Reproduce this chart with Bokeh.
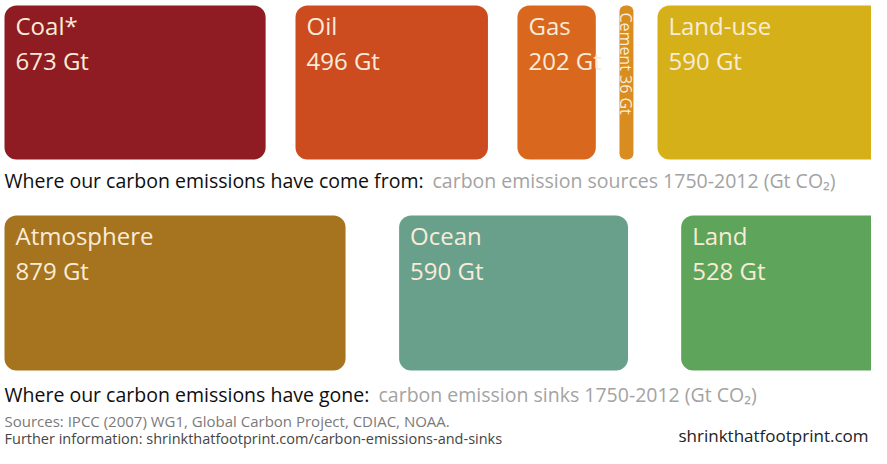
import math
from bokeh.plotting import figure
from bokeh.models import Range1d, ColumnDataSource
from bokeh.core.properties import value
from bokeh.embed import file_html
from bokeh.resources import INLINE

# ---- data (Gt CO2, 1750-2012) ----
source_names = ["Coal*", "Oil", "Gas", "Cement", "Land-use"]
source_values = [673, 496, 202, 36, 590]
source_colors = ["#8e1c22", "#cc4b1f", "#d9671d", "#d98c1f", "#d6b018"]

sink_names = ["Atmosphere", "Ocean", "Land"]
sink_values = [879, 590, 528]
sink_colors = ["#a6731f", "#69a08c", "#5ea45b"]

caption_top = ["Where our carbon emissions have come from:", "carbon emission sources 1750-2012 (Gt CO\u2082)"]
caption_bottom = ["Where our carbon emissions have gone:", "carbon emission sinks 1750-2012 (Gt CO\u2082)"]
sources_note = "Sources:  IPCC (2007) WG1, Global Carbon Project, CDIAC, NOAA."
further_note = "Further information:  shrinkthatfootprint.com/carbon-emissions-and-sinks"
brand = "shrinkthatfootprint.com"

# ---- layout ----
W, H = 871, 448
PX_PER_GT = 0.388
X_START = -4 / PX_PER_GT
top_gaps = [0, 77, 76, 61, 62]
bottom_gaps = [0, 138, 137]


def px(x):
    """plot pixel -> x data (Gt)"""
    return X_START + x / PX_PER_GT


def lefts(values, gaps):
    out, cur = [], 0.0
    for v, g in zip(values, gaps):
        cur += g
        out.append(cur)
        cur += v
    return out


p = figure(width=W, height=H, output_backend="svg", toolbar_location=None,
           x_range=Range1d(X_START, X_START + W / PX_PER_GT),
           y_range=Range1d(H, 0), min_border=0)
p.axis.visible = False
p.grid.visible = False
p.outline_line_color = None
p.background_fill_color = "white"

CREAM = "#f8ecd8"
FONT = "Open Sans"

# top row
tl = lefts(source_values, top_gaps)
tr = [l + v for l, v in zip(tl, source_values)]
big = [i for i in range(len(source_values)) if source_names[i] != "Cement"]
cem = source_names.index("Cement")
src_big = ColumnDataSource(dict(left=[tl[i] for i in big], right=[tr[i] for i in big],
                                color=[source_colors[i] for i in big]))
p.quad(left="left", right="right", top=5, bottom=159, fill_color="color",
       line_color=None, border_radius=12, source=src_big)
p.quad(left=[tl[cem]], right=[tr[cem]], top=5, bottom=159, fill_color=source_colors[cem],
       line_color=None, border_radius=6)

lab_x = [tl[i] + 11 / PX_PER_GT for i in big]
p.text(x=lab_x, y=[25] * len(big), text=[source_names[i] for i in big],
       text_font=value(FONT), text_font_size="24px", text_color=CREAM,
       text_baseline="alphabetic", text_align="left")
p.text(x=lab_x, y=[60] * len(big), text=[f"{source_values[i]} Gt" for i in big],
       text_font=value(FONT), text_font_size="24px", text_color=CREAM,
       text_baseline="alphabetic", text_align="left")
p.text(x=[(tl[cem] + tr[cem]) / 2], y=[12], text=[f"Cement  {source_values[cem]} Gt"],
       angle=-math.pi / 2, text_font=value(FONT), text_font_size="16px", text_color=CREAM,
       text_baseline="middle", text_align="left")

# bottom row
bl = lefts(sink_values, bottom_gaps)
br = [l + v for l, v in zip(bl, sink_values)]
p.quad(left=bl, right=br, top=215, bottom=370, fill_color=sink_colors,
       line_color=None, border_radius=12)
blx = [l + 11 / PX_PER_GT for l in bl]
p.text(x=blx, y=[235] * 3, text=sink_names, text_font=value(FONT), text_font_size="24px",
       text_color=CREAM, text_baseline="alphabetic")
p.text(x=blx, y=[270] * 3, text=[f"{v} Gt" for v in sink_values], text_font=value(FONT),
       text_font_size="24px", text_color=CREAM, text_baseline="alphabetic")


# captions
def caption(parts, y, x2):
    p.text(x=[px(4)], y=[y], text=[parts[0]], text_font=value(FONT), text_font_size="19.5px",
           text_color="#0e0e0e", text_baseline="alphabetic")
    p.text(x=[px(x2)], y=[y], text=[parts[1]], text_font=value(FONT), text_font_size="19.5px",
           text_color="#a3a3a3", text_baseline="alphabetic")


caption(caption_top, 180, 432)
caption(caption_bottom, 394, 378)

p.text(x=[px(4)], y=[420], text=[sources_note], text_font=value(FONT), text_font_size="15px",
       text_color="#7a7a7a", text_baseline="alphabetic")
p.text(x=[px(4)], y=[437.5], text=[further_note], text_font=value(FONT), text_font_size="14.5px",
       text_color="#454545", text_baseline="alphabetic")
p.text(x=[px(678)], y=[435], text=[brand], text_font=value(FONT), text_font_size="17px",
       text_color="#222222", text_baseline="alphabetic")

open("out.html", "w").write(file_html(p, INLINE))
